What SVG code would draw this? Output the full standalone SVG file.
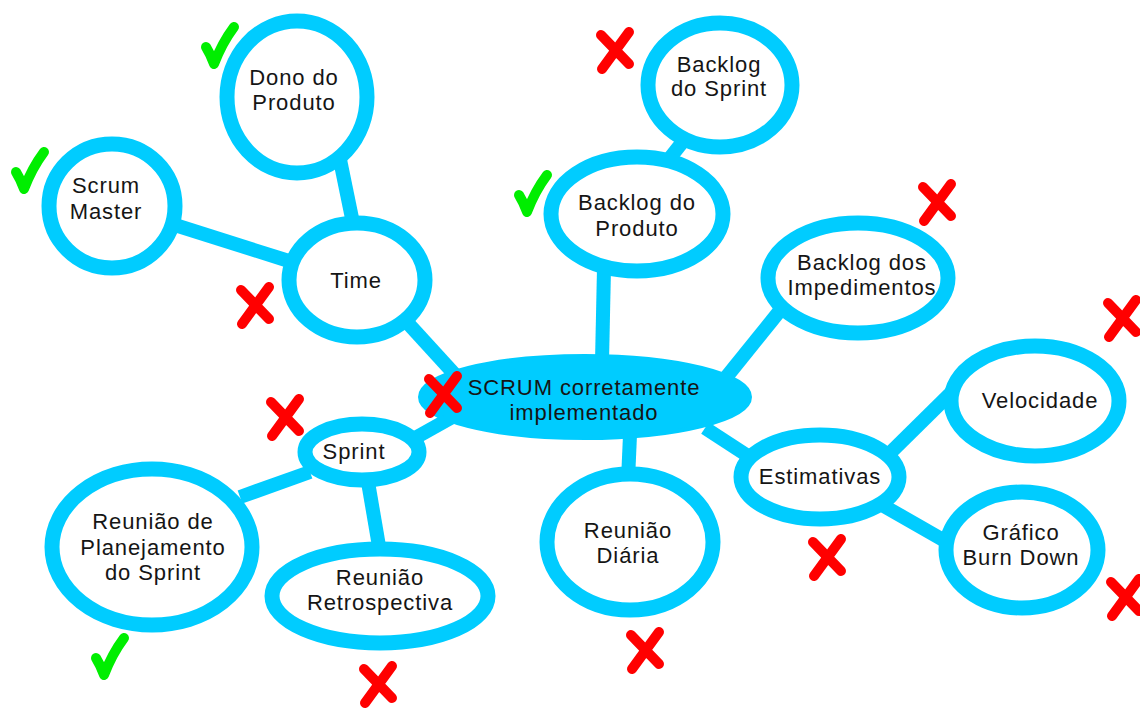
<svg xmlns="http://www.w3.org/2000/svg" width="1140" height="711" viewBox="0 0 1140 711">
  <defs>
    <style>
      .ring { fill: #ffffff; stroke: #00ccff; stroke-width: 15; }
      .hub { fill: #00ccff; stroke: #00ccff; stroke-width: 4; }
      .link { stroke: #00ccff; stroke-width: 14; fill: none; }
      .label { font-family: "Liberation Sans", Arial, sans-serif; font-size: 22px; fill: #151515; text-anchor: middle; letter-spacing: 0.9px; }
      .ok { stroke: #00ee00; stroke-width: 10; fill: none; stroke-linecap: round; stroke-linejoin: round; }
      .no { stroke: #ff0000; stroke-width: 10; fill: none; stroke-linecap: round; }
    </style>
    <!-- reusable marks -->
    <g id="check">
      <path class="ok" d="M -8 2 Q -3 10 0 19 Q 8 -2 20 -18"/>
    </g>
    <g id="cross">
      <path class="no" d="M -14 -15 L 14 14 M 14 -18 L -13 19"/>
    </g>
  </defs>

  <rect width="1140" height="711" fill="#ffffff"/>

  <!-- connectors -->
  <g id="connectors">
    <line class="link" x1="175" y1="225" x2="292" y2="262"/>
    <line class="link" x1="338" y1="150" x2="354" y2="228"/>
    <line class="link" x1="405" y1="320" x2="458" y2="378"/>
    <line class="link" x1="692" y1="130" x2="662" y2="168"/>
    <line class="link" x1="604" y1="268" x2="602" y2="362"/>
    <line class="link" x1="782" y1="308" x2="724" y2="380"/>
    <line class="link" x1="705" y1="428" x2="748" y2="456"/>
    <line class="link" x1="885" y1="458" x2="958" y2="386"/>
    <line class="link" x1="882" y1="505" x2="952" y2="545"/>
    <line class="link" x1="630" y1="435" x2="628" y2="480"/>
    <line class="link" x1="415" y1="438" x2="465" y2="410"/>
    <line class="link" x1="310" y1="472" x2="240" y2="497"/>
    <line class="link" x1="368" y1="482" x2="380" y2="552"/>
  </g>

  <!-- nodes -->
  <g id="dono-do-produto">
    <ellipse class="ring" cx="297" cy="97" rx="70" ry="76"/>
    <text class="label" x="294" y="85">Dono do</text>
    <text class="label" x="294" y="110">Produto</text>
  </g>
  <g id="scrum-master">
    <ellipse class="ring" cx="112" cy="206" rx="63" ry="62"/>
    <text class="label" x="106" y="193">Scrum</text>
    <text class="label" x="106" y="219">Master</text>
  </g>
  <g id="time">
    <ellipse class="ring" cx="357" cy="280" rx="68" ry="57"/>
    <text class="label" x="356" y="288">Time</text>
  </g>
  <g id="backlog-do-sprint">
    <ellipse class="ring" cx="720" cy="85" rx="72" ry="62"/>
    <text class="label" x="719" y="72">Backlog</text>
    <text class="label" x="719" y="96">do Sprint</text>
  </g>
  <g id="backlog-do-produto">
    <ellipse class="ring" cx="637" cy="214" rx="86" ry="57"/>
    <text class="label" x="637" y="210">Backlog do</text>
    <text class="label" x="637" y="236">Produto</text>
  </g>
  <g id="backlog-dos-impedimentos">
    <ellipse class="ring" cx="858" cy="278" rx="90" ry="55"/>
    <text class="label" x="862" y="270">Backlog dos</text>
    <text class="label" x="862" y="295">Impedimentos</text>
  </g>
  <g id="scrum">
    <ellipse class="hub" cx="585" cy="397" rx="165" ry="41"/>
    <text class="label" x="584" y="395">SCRUM corretamente</text>
    <text class="label" x="584" y="420">implementado</text>
  </g>
  <g id="velocidade">
    <ellipse class="ring" cx="1035" cy="401" rx="84" ry="55"/>
    <text class="label" x="1040" y="408">Velocidade</text>
  </g>
  <g id="estimativas">
    <ellipse class="ring" cx="820" cy="477" rx="79" ry="42"/>
    <text class="label" x="820" y="484">Estimativas</text>
  </g>
  <g id="grafico-burn-down">
    <ellipse class="ring" cx="1022" cy="550" rx="76" ry="58"/>
    <text class="label" x="1021" y="540">Gráfico</text>
    <text class="label" x="1021" y="565">Burn Down</text>
  </g>
  <g id="reuniao-diaria">
    <ellipse class="ring" cx="630" cy="542" rx="83" ry="68"/>
    <text class="label" x="628" y="538">Reunião</text>
    <text class="label" x="628" y="563">Diária</text>
  </g>
  <g id="sprint">
    <ellipse class="ring" cx="362" cy="452" rx="57" ry="28"/>
    <text class="label" x="354" y="459">Sprint</text>
  </g>
  <g id="reuniao-de-planejamento">
    <ellipse class="ring" cx="152" cy="547" rx="100" ry="78"/>
    <text class="label" x="153" y="529">Reunião de</text>
    <text class="label" x="153" y="555">Planejamento</text>
    <text class="label" x="153" y="580">do Sprint</text>
  </g>
  <g id="reuniao-retrospectiva">
    <ellipse class="ring" cx="380" cy="596" rx="108" ry="47"/>
    <text class="label" x="380" y="585">Reunião</text>
    <text class="label" x="380" y="610">Retrospectiva</text>
  </g>

  <!-- status marks -->
  <g id="marks">
    <use href="#check" x="214" y="45"/>
    <use href="#check" x="24" y="170"/>
    <use href="#check" x="527" y="193"/>
    <use href="#check" x="104" y="656"/>
    <use href="#cross" x="615" y="50"/>
    <use href="#cross" x="937" y="202"/>
    <use href="#cross" x="1122" y="318"/>
    <use href="#cross" x="255" y="305"/>
    <use href="#cross" x="443" y="394"/>
    <use href="#cross" x="285" y="417"/>
    <use href="#cross" x="827" y="557"/>
    <use href="#cross" x="1125" y="597"/>
    <use href="#cross" x="645" y="650"/>
    <use href="#cross" x="378" y="684"/>
  </g>
</svg>
